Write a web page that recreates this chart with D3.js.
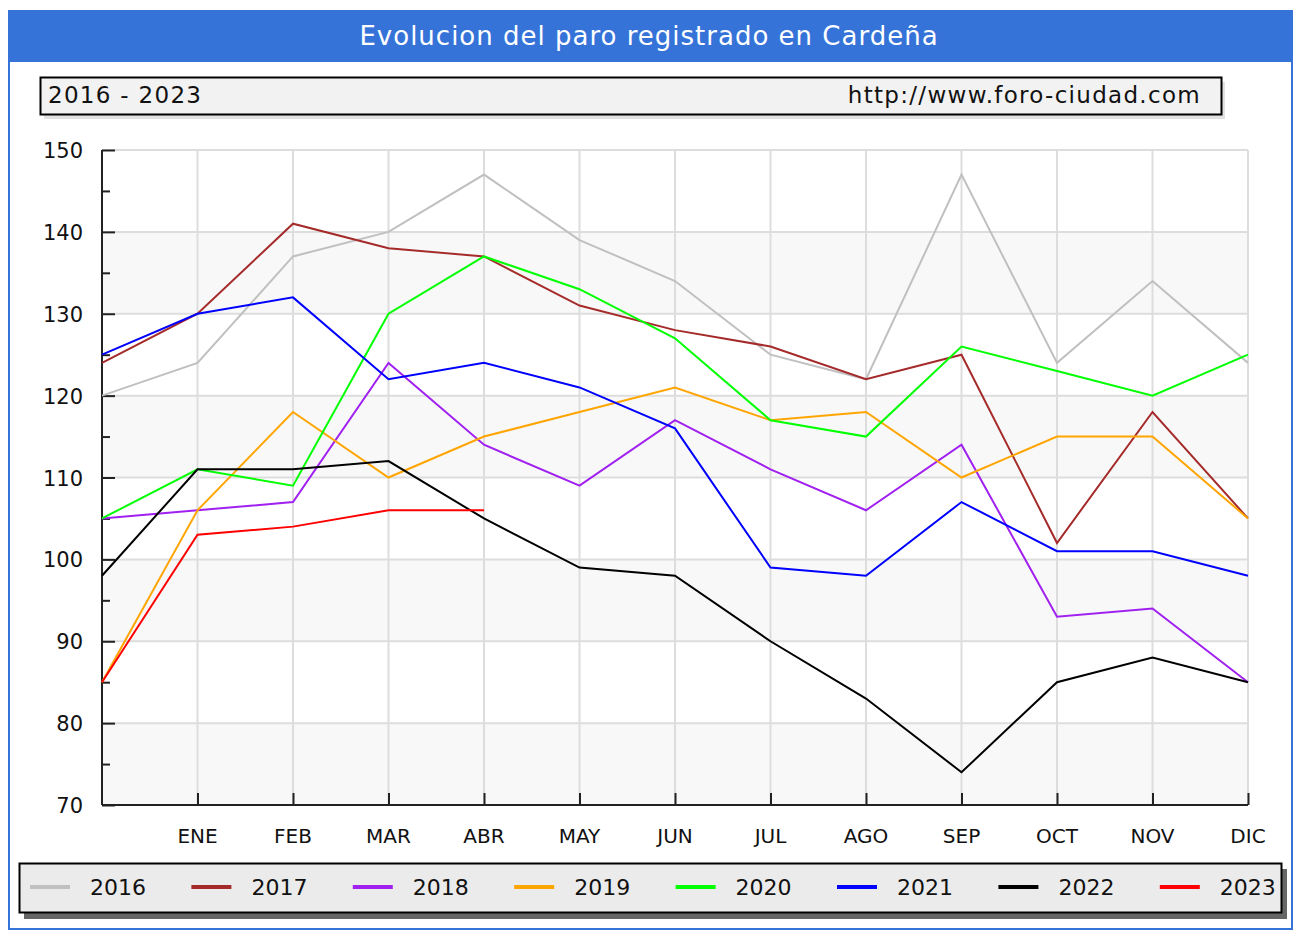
<!DOCTYPE html>
<html>
<head>
<meta charset="utf-8">
<script src="https://cdnjs.cloudflare.com/ajax/libs/d3/7.8.5/d3.min.js"></script>
<style>
  body { margin: 0; background: #fff; }
  text { font-family: "DejaVu Sans", Verdana, sans-serif; }
</style>
</head>
<body>
<div id="chart"></div>
<script>
// Chart data
const months = ["", "ENE", "FEB", "MAR", "ABR", "MAY", "JUN", "JUL", "AGO", "SEP", "OCT", "NOV", "DIC"];
const years = ["2016", "2017", "2018", "2019", "2020", "2021", "2022", "2023"];
const colors = ["#c0c0c0", "#a52a2a", "#a020f0", "#ffa500", "#00ff00", "#0000ff", "#000000", "#ff0000"];
const yTicks = [70, 80, 90, 100, 110, 120, 130, 140, 150];

const v2016 = [120, 124, 137, 140, 147, 139, 134, 125, 122, 147, 124, 134, 124];
const v2017 = [124, 130, 141, 138, 137, 131, 128, 126, 122, 125, 102, 118, 105];
const v2018 = [105, 106, 107, 124, 114, 109, 117, 111, 106, 114, 93, 94, 85];
const v2019 = [85, 106, 118, 110, 115, 118, 121, 117, 118, 110, 115, 115, 105];
const v2020 = [105, 111, 109, 130, 137, 133, 127, 117, 115, 126, 123, 120, 125];
const v2021 = [125, 130, 132, 122, 124, 121, 116, 99, 98, 107, 101, 101, 98];
const v2022 = [98, 111, 111, 112, 105, 99, 98, 90, 83, 74, 85, 88, 85];
const v2023 = [85, 103, 104, 106, 106];
const series = [v2016, v2017, v2018, v2019, v2020, v2021, v2022, v2023];

const width = 1295, height = 933;
const plotLeft = 102, plotRight = 1248, plotTop = 150, plotBottom = 805;

const svg = d3.select("#chart").append("svg")
    .attr("width", width)
    .attr("height", height);

// Outer frame and title bar
svg.append("rect").attr("x", 9).attr("y", 11).attr("width", 1283).attr("height", 918)
    .attr("fill", "#fff").attr("stroke", "#3573d9").attr("stroke-width", 2);
svg.append("rect").attr("x", 8).attr("y", 10).attr("width", 1285).attr("height", 52)
    .attr("fill", "#3573d9");
svg.append("text").attr("x", 649).attr("y", 45).attr("text-anchor", "middle")
    .attr("fill", "#fff").style("font-size", "26px").style("letter-spacing", "1px")
    .text("Evolucion del paro registrado en Cardeña");

// Subtitle box
svg.append("rect").attr("x", 44).attr("y", 82).attr("width", 1181).attr("height", 37).attr("fill", "#e2e2e2");
svg.append("rect").attr("x", 40.5).attr("y", 77.5).attr("width", 1181).attr("height", 37)
    .attr("fill", "#f2f2f2").attr("stroke", "#000").attr("stroke-width", 2);
svg.append("text").attr("x", 48).attr("y", 103).style("font-size", "23px").style("letter-spacing", "1.3px")
    .attr("fill", "#111").text("2016 - 2023");
svg.append("text").attr("x", 1201).attr("y", 103).attr("text-anchor", "end").style("font-size", "23px")
    .style("letter-spacing", "1.3px").attr("fill", "#111").text("http://www.foro-ciudad.com");

// Scales
const x = d3.scalePoint().domain(d3.range(months.length)).range([plotLeft, plotRight]);
const y = d3.scaleLinear().domain([70, 150]).range([plotBottom, plotTop]);

// Alternating background bands
const bands = [[130, 140], [110, 120], [90, 100], [70, 80]];
svg.append("g").selectAll("rect").data(bands).join("rect")
    .attr("x", plotLeft).attr("width", plotRight - plotLeft)
    .attr("y", d => y(d[1])).attr("height", d => y(d[0]) - y(d[1]))
    .attr("fill", "#f8f8f8");

// Grid
const grid = svg.append("g").attr("stroke", "#dddddd").attr("stroke-width", 2);
grid.selectAll(".h").data(yTicks).join("line").attr("class", "h")
    .attr("x1", plotLeft).attr("x2", plotRight).attr("y1", d => y(d)).attr("y2", d => y(d));
grid.selectAll(".v").data(d3.range(1, months.length)).join("line").attr("class", "v")
    .attr("x1", d => x(d)).attr("x2", d => x(d)).attr("y1", plotTop).attr("y2", plotBottom);

// Axes
const yAxis = svg.append("g").attr("transform", `translate(${plotLeft},0)`)
    .call(d3.axisRight(y).tickValues(yTicks).tickSize(13).tickFormat(""));
yAxis.append("g").call(d3.axisRight(y).tickValues(d3.range(75, 150, 10)).tickSize(8).tickFormat(""));
yAxis.selectAll("path, line").attr("stroke", "#222").attr("stroke-width", 2);
yAxis.selectAll(".domain").attr("d", `M0,${plotTop}V${plotBottom}`);

svg.append("g").selectAll("text").data(yTicks).join("text")
    .attr("x", 83).attr("y", d => y(d) + 8).attr("text-anchor", "end")
    .style("font-size", "21px").attr("fill", "#111").text(d => d);

const xAxis = svg.append("g").attr("transform", `translate(0,${plotBottom})`)
    .call(d3.axisTop(x).tickValues(d3.range(1, months.length)).tickSize(12).tickFormat(""));
xAxis.selectAll("path, line").attr("stroke", "#222").attr("stroke-width", 2);
xAxis.select(".domain").attr("d", `M${plotLeft},0H${plotRight}`);

svg.append("g").selectAll("text").data(d3.range(1, months.length)).join("text")
    .attr("x", d => x(d)).attr("y", 843).attr("text-anchor", "middle")
    .style("font-size", "20px").attr("fill", "#111").text(d => months[d]);

// Lines
const line = d3.line().x((d, i) => x(i)).y(d => y(d));
svg.append("g").selectAll("path").data(series).join("path")
    .attr("d", line).attr("fill", "none")
    .attr("stroke", (d, i) => colors[i]).attr("stroke-width", 2);

// Legend
svg.append("rect").attr("x", 24).attr("y", 869).attr("width", 1263).attr("height", 50).attr("fill", "#666");
svg.append("rect").attr("x", 19.5).attr("y", 863.5).attr("width", 1262).attr("height", 49)
    .attr("fill", "#ebebeb").attr("stroke", "#000").attr("stroke-width", 2);
const legend = svg.append("g").selectAll("g").data(years).join("g")
    .attr("transform", (d, i) => `translate(${30 + i * 161.4},887)`);
legend.append("line").attr("x1", 0).attr("x2", 40)
    .attr("stroke", (d, i) => colors[i]).attr("stroke-width", 4);
legend.append("text").attr("x", 60).attr("y", 8).style("font-size", "22px").attr("fill", "#111")
    .text(d => d);
</script>
</body>
</html>
